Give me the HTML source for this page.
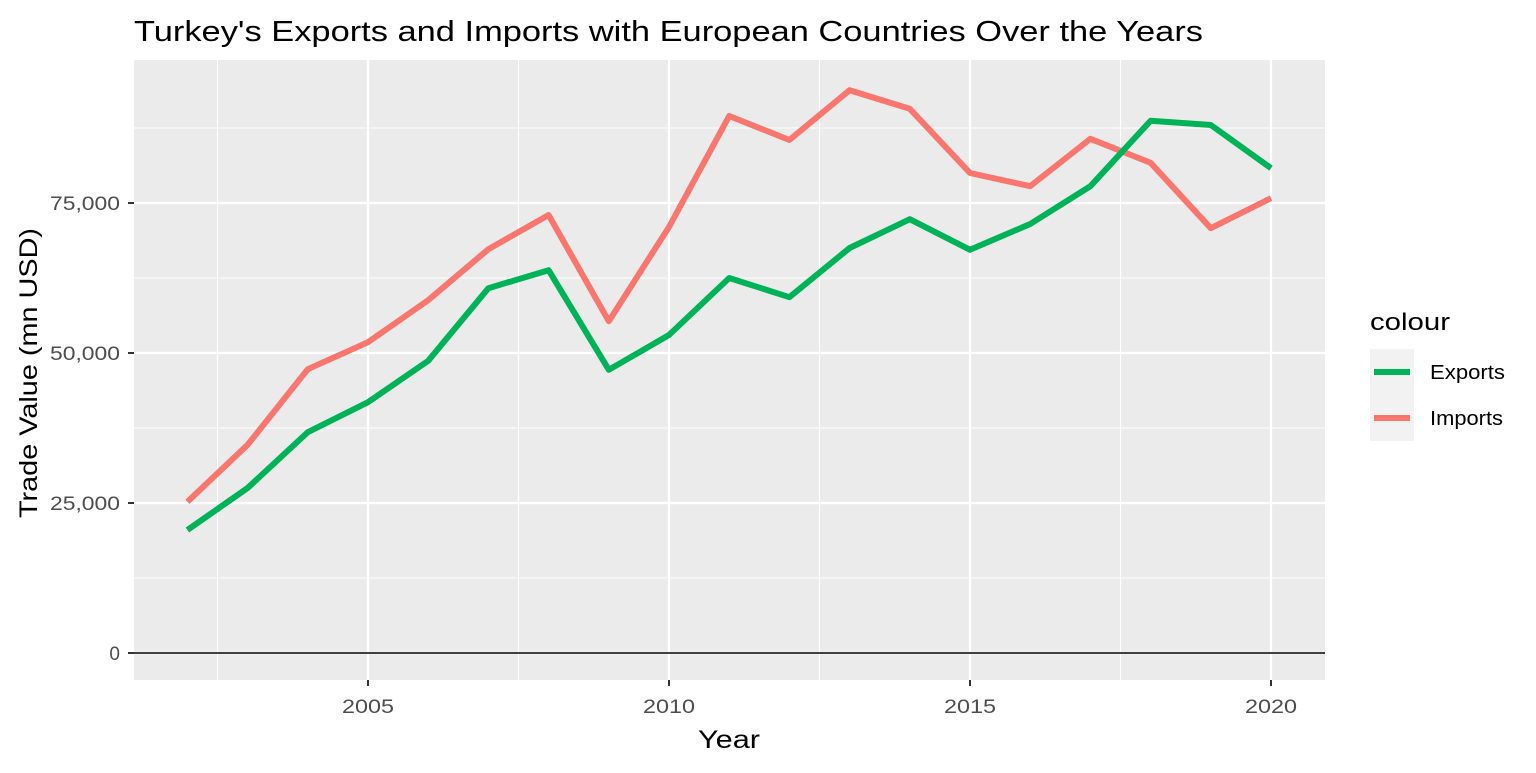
<!DOCTYPE html>
<html><head><meta charset="utf-8"><style>
body{margin:0;background:#fff;}
svg text{font-family:"Liberation Sans",Arial,sans-serif;}
</style></head><body>
<svg id="chart" width="1536" height="768" xmlns="http://www.w3.org/2000/svg">
<rect x="0" y="0" width="1536" height="768" fill="#fff"/>
<text x="134" y="41" font-size="29" textLength="1069" lengthAdjust="spacingAndGlyphs" fill="#000">Turkey's Exports and Imports with European Countries Over the Years</text>
<rect x="134" y="60" width="1191" height="620" fill="#ebebeb"/>
<g id="grid"></g>
<g id="lines"></g>
<g id="axes"></g>
<text x="729" y="748" font-size="25" textLength="62" lengthAdjust="spacingAndGlyphs" text-anchor="middle" fill="#000">Year</text>
<text transform="translate(37,373) rotate(-90)" font-size="25" textLength="290" lengthAdjust="spacingAndGlyphs" text-anchor="middle" fill="#000">Trade Value (mn USD)</text>
<g>
<text x="1370" y="330" font-size="24" textLength="80" lengthAdjust="spacingAndGlyphs" fill="#000">colour</text>
<rect x="1370" y="349" width="44" height="46" fill="#f2f2f2"/>
<rect x="1370" y="395" width="44" height="46" fill="#f2f2f2"/>
<line x1="1374" x2="1410" y1="372" y2="372" stroke="#00b359" stroke-width="6"/>
<line x1="1374" x2="1410" y1="418" y2="418" stroke="#f8766d" stroke-width="6"/>
<text x="1430" y="379" font-size="20" textLength="75" lengthAdjust="spacingAndGlyphs" fill="#000">Exports</text>
<text x="1430" y="425" font-size="20" textLength="73" lengthAdjust="spacingAndGlyphs" fill="#000">Imports</text>
</g>
</svg>
<script>
const years=[2002,2003,2004,2005,2006,2007,2008,2009,2010,2011,2012,2013,2014,2015,2016,2017,2018,2019,2020];
const exportsVals=[20500,27500,36800,41800,48700,60800,63800,47200,53000,62500,59300,67500,72300,67200,71500,77800,88700,88000,80800];
const importsVals=[25200,34700,47300,51800,58800,67300,73000,55300,71000,89500,85500,93800,90700,80000,77800,85700,81700,70800,75800];
const xTicks=[2005,2010,2015,2020];
const yTicks=[0,25000,50000,75000];
const yTickLabels=["0","25,000","50,000","75,000"];
const NS="http://www.w3.org/2000/svg";
const X=v=>368+(v-2005)*60.2;
const Y=v=>653-v/25000*150;
function mk(tag,attrs,parent){const e=document.createElementNS(NS,tag);for(const k in attrs)e.setAttribute(k,attrs[k]);parent.appendChild(e);return e;}
const grid=document.getElementById('grid'),axes=document.getElementById('axes'),lines=document.getElementById('lines');
[2002.5,2007.5,2012.5,2017.5].forEach(v=>{const l=mk('line',{x1:X(v),x2:X(v),y1:60,y2:680,stroke:'#fff','stroke-width':1.1},grid);

});
[12500,37500,62500,87500].forEach(v=>{const l=mk('line',{x1:134,x2:1325,y1:Y(v),y2:Y(v),stroke:'#fff','stroke-width':1.1},grid);

});
xTicks.forEach(v=>{const l=mk('line',{x1:X(v),x2:X(v),y1:60,y2:680,stroke:'#fff','stroke-width':2.2},grid);


const t=mk('line',{x1:X(v),x2:X(v),y1:680,y2:686,stroke:'#333','stroke-width':2},axes);


const tx=mk('text',{x:X(v),y:713,'font-size':19,textLength:52,lengthAdjust:'spacingAndGlyphs','text-anchor':'middle',fill:'#4d4d4d'},axes);tx.textContent=v;

});
yTicks.forEach((v,i)=>{const l=mk('line',{x1:134,x2:1325,y1:Y(v),y2:Y(v),stroke:'#fff','stroke-width':2.2},grid);


const t=mk('line',{x1:128,x2:134,y1:Y(v),y2:Y(v),stroke:'#333','stroke-width':2},axes);


const attrs={x:120,y:Y(v)+7,'font-size':19,'text-anchor':'end',fill:'#4d4d4d'};
if(yTickLabels[i].length>1){attrs.textLength=70;attrs.lengthAdjust='spacingAndGlyphs';}
const tx=mk('text',attrs,axes);tx.textContent=yTickLabels[i];

});
const z=mk('line',{x1:134,x2:1325,y1:Y(0),y2:Y(0),stroke:'#000','stroke-width':1.5},grid);


function series(vals,color,name){const p=mk('polyline',{points:vals.map((v,i)=>X(years[i])+','+Y(v)).join(' '),fill:'none',stroke:color,'stroke-width':6,'stroke-linejoin':'round'},lines);

}
series(importsVals,'#f8766d','imports-line');
series(exportsVals,'#00b359','exports-line');
</script>
</body></html>
